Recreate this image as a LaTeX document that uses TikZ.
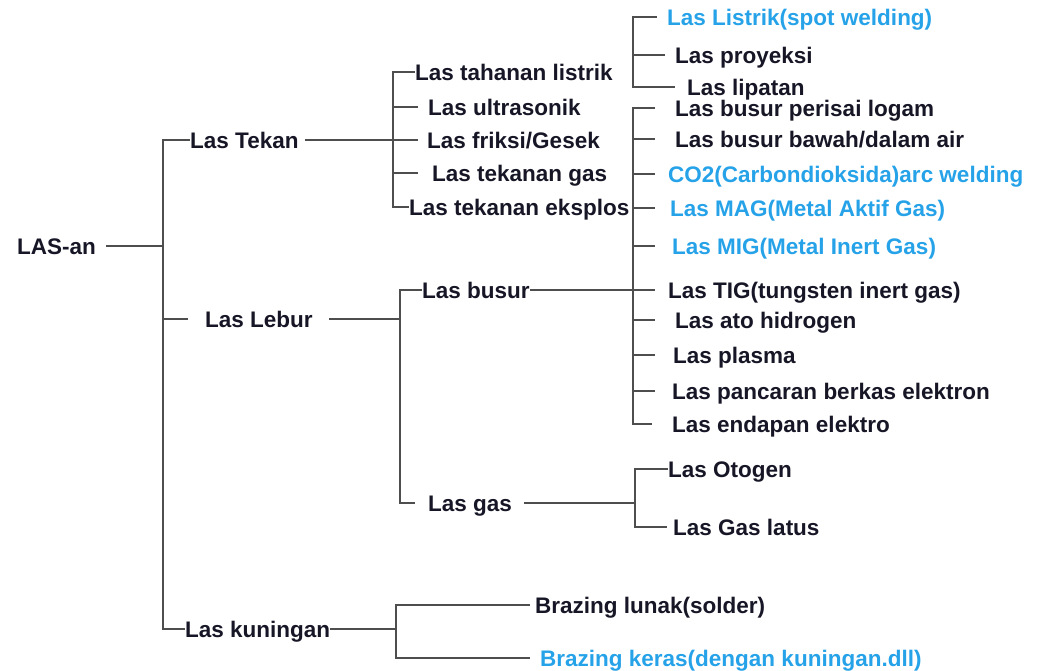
\documentclass[tikz,border=0pt]{standalone}
\usepackage{fontspec}
\setmainfont{Liberation Sans}
\definecolor{txt}{RGB}{22,22,38}
\definecolor{blu}{RGB}{38,162,232}
\definecolor{lin}{RGB}{78,78,78}
\tikzset{
  lbl/.style={anchor=west, inner sep=0pt, font=\fontsize{22.5}{26}\selectfont\bfseries, text=txt, text height=16pt, text depth=0pt},
  bl/.style={lbl, text=blu},
  ln/.style={draw=lin, line width=2pt}
}
\begin{document}
\begin{tikzpicture}[x=1pt,y=-1pt]
\useasboundingbox (0,0) rectangle (1043,670);
% nodes
\node[lbl] (root) at (17,246) {LAS-an};
\node[lbl] (tekan) at (190,140) {Las Tekan};
\node[lbl] (lebur) at (205,319) {Las Lebur};
\node[lbl] (kuning) at (185,629) {Las kuningan};
\node[lbl] (tahanan) at (415,72) {Las tahanan listrik};
\node[lbl] (ultra) at (428,107) {Las ultrasonik};
\node[lbl] (friksi) at (427,140) {Las friksi/Gesek};
\node[lbl] (tgas) at (432,173) {Las tekanan gas};
\node[lbl] (eksplos) at (409,207) {Las tekanan eksplos};
\node[bl] (spot) at (667,17) {Las Listrik(spot welding)};
\node[lbl] (proy) at (675,55) {Las proyeksi};
\node[lbl] (lipat) at (687,87) {Las lipatan};
\node[lbl] (perisai) at (675,108) {Las busur perisai logam};
\node[lbl] (bawah) at (675,139) {Las busur bawah/dalam air};
\node[bl] (co2) at (668,174) {CO2(Carbondioksida)arc welding};
\node[bl] (mag) at (670,208) {Las MAG(Metal Aktif Gas)};
\node[bl] (mig) at (672,246) {Las MIG(Metal Inert Gas)};
\node[lbl] (tig) at (668,290) {Las TIG(tungsten inert gas)};
\node[lbl] (ato) at (675,320) {Las ato hidrogen};
\node[lbl] (plasma) at (673,355) {Las plasma};
\node[lbl] (pancar) at (672,391) {Las pancaran berkas elektron};
\node[lbl] (endap) at (672,424) {Las endapan elektro};
\node[lbl] (busur) at (422,290) {Las busur};
\node[lbl] (gas) at (428,503) {Las gas};
\node[lbl] (otogen) at (668,469) {Las Otogen};
\node[lbl] (latus) at (673,527) {Las Gas latus};
\node[lbl] (solder) at (535,605) {Brazing lunak(solder)};
\node[bl] (keras) at (540,658) {Brazing keras(dengan kuningan.dll)};
% bus coordinates
\coordinate (m0) at (163,0);
\coordinate (tb) at (393,0);
\coordinate (sb) at (633,0);
\coordinate (bb) at (633,0);
\coordinate (lb) at (400,0);
\coordinate (gb) at (635,0);
\coordinate (kb) at (396,0);
% main bracket
\draw[ln] ([xshift=10]root.east) -- (root.east -| m0);
\draw[ln] (tekan.west) -- (tekan.west -| m0) -- (kuning.west -| m0) -- (kuning.west);
\draw[ln] ([xshift=-17]lebur.west) -- (lebur.west -| m0);
% Las Tekan bracket
\draw[ln] ([xshift=6]tekan.east) -- ([xshift=-9]friksi.west);
\draw[ln] (tahanan.west) -- (tahanan.west -| tb) -- (eksplos.west -| tb) -- (eksplos.west);
\draw[ln] ([xshift=-10]ultra.west) -- (ultra.west -| tb);
\draw[ln] ([xshift=-14]tgas.west) -- (tgas.west -| tb);
% spot bracket
\draw[ln] ([xshift=-10]spot.west) -- (spot.west -| sb) -- (lipat.west -| sb) -- ([xshift=-12]lipat.west);
\draw[ln] ([xshift=-10]proy.west) -- (proy.west -| sb);
% Las busur bracket
\draw[ln] ([xshift=-20]perisai.west) -- (perisai.west -| bb) -- (endap.west -| bb) -- ([xshift=-20]endap.west);
\foreach \n in {bawah,co2,mag,mig,ato,plasma,pancar}
  \draw[ln] (\n.west -| bb) -- ++(22,0);
\draw[ln] (busur.east) -- ([xshift=-13]tig.west);
% Las Lebur bracket
\draw[ln] ([xshift=16]lebur.east) -- (lebur.east -| lb);
\draw[ln] (busur.west) -- (busur.west -| lb) -- (gas.west -| lb) -- ([xshift=-13]gas.west);
% Las gas bracket
\draw[ln] ([xshift=12]gas.east) -- (gas.east -| gb);
\draw[ln] (otogen.west) -- (otogen.west -| gb) -- (latus.west -| gb) -- ([xshift=-6]latus.west);
% kuningan bracket
\draw[ln] (kuning.east) -- (kuning.east -| kb);
\draw[ln] ([xshift=-5]solder.west) -- (solder.west -| kb) -- (keras.west -| kb) -- ([xshift=-10]keras.west);
\end{tikzpicture}
\end{document}
